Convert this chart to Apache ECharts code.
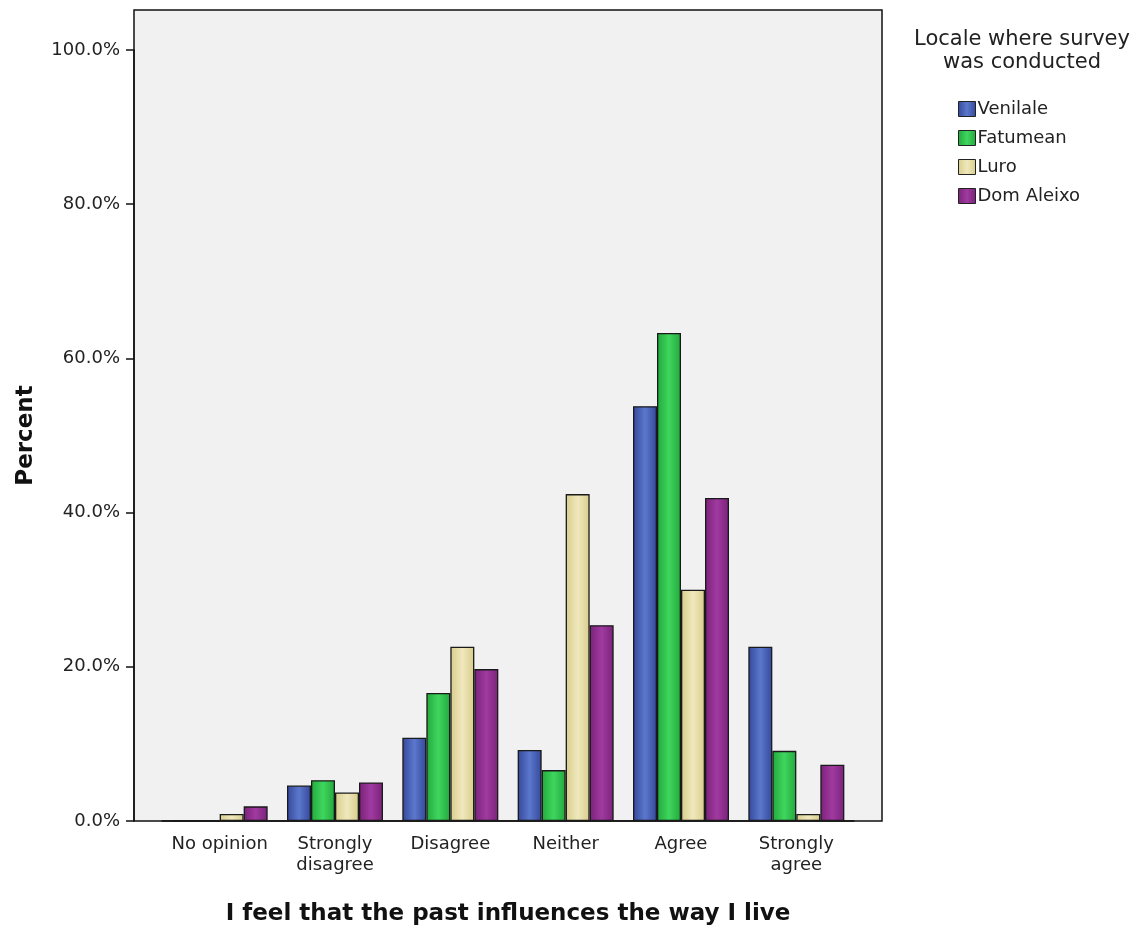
<!DOCTYPE html>
<html>
<head>
<meta charset="utf-8">
<script src="https://cdn.jsdelivr.net/npm/echarts@6/dist/echarts.min.js"></script>
<style>
html,body{margin:0;padding:0;background:#fff;}
#chart{width:1146px;height:933px;}
</style>
</head>
<body>
<div id="chart"></div>
<script>
const categories = ['No opinion', 'Strongly\ndisagree', 'Disagree', 'Neither', 'Agree', 'Strongly\nagree'];
const seriesNames = ['Venilale', 'Fatumean', 'Luro', 'Dom Aleixo'];
const venilale = [0, 4.6, 10.8, 9.2, 53.8, 22.6];
const fatumean = [0, 5.3, 16.6, 6.6, 63.3, 9.1];
const luro = [0.9, 3.7, 22.6, 42.4, 30.0, 0.9];
const domAleixo = [1.9, 5.0, 19.7, 25.4, 41.9, 7.3];
const yTicks = [0, 20, 40, 60, 80, 100];

const baseColors = [
  ['#34489a', '#5b78cc'],
  ['#22a83c', '#3fd65e'],
  ['#d8cc8c', '#efe8bc'],
  ['#7a2279', '#a03aa0']
];
function grad(c) {
  return new echarts.graphic.LinearGradient(0, 0, 1, 0, [
    {offset: 0, color: c[0]}, {offset: 0.5, color: c[1]}, {offset: 1, color: c[0]}
  ]);
}
const font = 'DejaVu Sans';
const allData = [venilale, fatumean, luro, domAleixo];

const chart = echarts.init(document.getElementById('chart'), null, {renderer: 'canvas'});
chart.setOption({
  animation: false,
  backgroundColor: '#ffffff',
  textStyle: {fontFamily: font},
  graphic: [{
    type: 'text', left: 1022 - 120, top: 28,
    style: {
      text: 'Locale where survey\nwas conducted',
      x: 0, y: 0, width: 240,
      align: 'center', textAlign: 'center',
      fontSize: 21, lineHeight: 23, fill: '#222', fontFamily: font
    }
  }],
  legend: {
    data: seriesNames,
    orient: 'vertical',
    left: 953, top: 95,
    itemWidth: 17, itemHeight: 15, itemGap: 11,
    icon: 'rect',
    itemStyle: {borderColor: '#222', borderWidth: 1},
    textStyle: {fontSize: 18, color: '#222', lineHeight: 15, padding: [0, 0, 0, -3]}
  },
  grid: [
    {left: 134, top: 10, width: 748, height: 811, show: true, backgroundColor: '#f1f1f1', borderColor: '#111', borderWidth: 1.5},
    {left: 162, top: 50, width: 692, height: 771, show: false}
  ],
  xAxis: [
    {type: 'value', gridIndex: 0, show: false},
    {
      type: 'category', gridIndex: 1, data: categories,
      axisLine: {lineStyle: {color: '#111', width: 1.5}},
      axisTick: {alignWithLabel: true, length: 8, lineStyle: {color: '#111', width: 1.5}},
      axisLabel: {interval: 0, fontSize: 18, color: '#222', lineHeight: 21, margin: 13, fontFamily: font},
      name: 'I feel that the past influences the way I live',
      nameLocation: 'middle', nameGap: 82,
      nameTextStyle: {fontSize: 23, fontWeight: 'bold', color: '#111', fontFamily: font}
    }
  ],
  yAxis: [
    {type: 'value', gridIndex: 0, show: false},
    {
      type: 'value', gridIndex: 1, min: 0, max: 100, interval: 20, offset: 28,
      axisLine: {show: true, lineStyle: {color: '#111', width: 1.5}},
      axisTick: {show: true, length: 8, lineStyle: {color: '#111', width: 1.5}},
      splitLine: {show: false},
      axisLabel: {fontSize: 18, color: '#222', margin: 14, fontFamily: font,
        formatter: v => yTicks.includes(v) ? v.toFixed(1) + '%' : ''},
      name: 'Percent', nameLocation: 'middle', nameGap: 96, nameRotate: 90,
      nameTextStyle: {fontSize: 23, fontWeight: 'bold', color: '#111', fontFamily: font}
    }
  ],
  series: seriesNames.map((n, i) => ({
    name: n, type: 'bar', xAxisIndex: 1, yAxisIndex: 1,
    data: allData[i], barWidth: 24, barGap: '0%',
    itemStyle: {color: grad(baseColors[i]), borderColor: '#1a1a1a', borderWidth: 1.3}
  }))
});
</script>
</body>
</html>
